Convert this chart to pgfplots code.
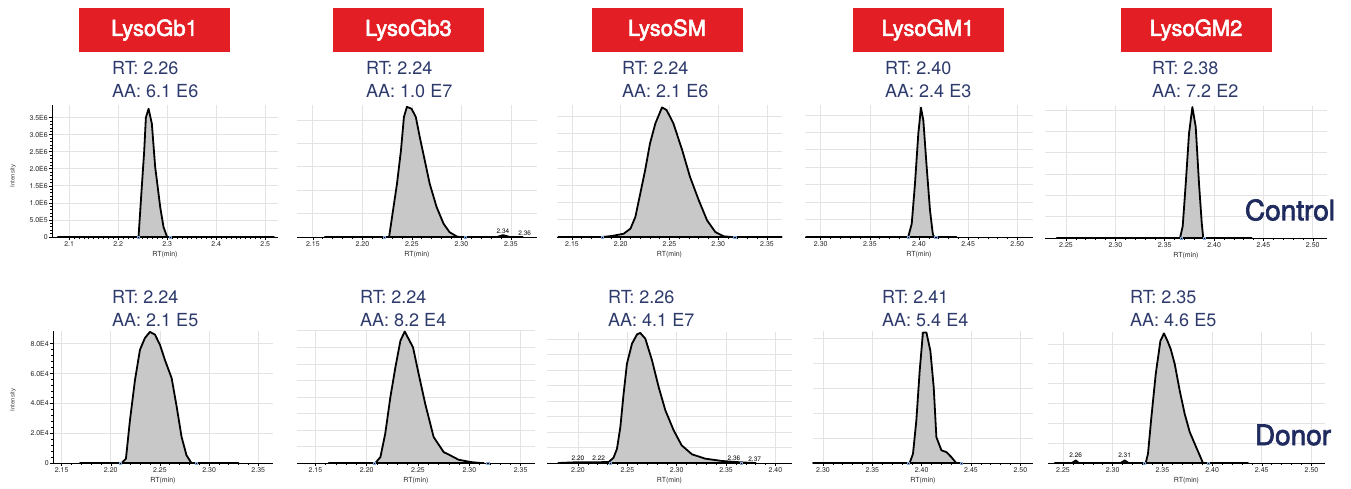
\documentclass[border=0pt]{standalone}
\usepackage{pgfplots}
\pgfplotsset{compat=1.18}
\usepackage{fontspec}
\setmainfont{TeX Gyre Heros}
\newfontface\medfont{TeX Gyre Heros}[FakeBold=2.5]

\definecolor{lysored}{HTML}{E31E24}
\definecolor{rtnavy}{HTML}{2D3A6B}
\definecolor{labnavy}{HTML}{1F2B5E}
\definecolor{peakgray}{HTML}{C8C8C8}
\definecolor{gridgray}{HTML}{E3E3E3}
\definecolor{markblue}{HTML}{7FA8D8}

\pgfplotsset{
  chrom/.style={
    scale only axis, anchor=south west,
    axis x line*=bottom, axis y line*=left,
    ymin=0, clip=false,
    xmajorgrids, ymajorgrids,
    grid style={draw=gridgray, line width=0.7pt},
    minor x tick num=4,
    tick align=outside,
    major tick length=3pt, minor tick length=2pt,
    tick style={black, line width=0.6pt},
    x axis line style={black, line width=0.9pt},
    tick label style={font=\fontsize{7}{7}\selectfont, inner sep=1pt, text=black!85},
    /pgf/number format/assume math mode=true,
    scaled y ticks=false,
    xlabel={RT(min)},
    xlabel style={font=\fontsize{7}{7}\selectfont, inner sep=0pt, text=black!85,
      at={(axis description cs:0.5,0)}, anchor=north, yshift=-14pt},
  },
  noy/.style={y axis line style={draw=none}, ytick style={draw=none}, yticklabels={}},
  withy/.style={y axis line style={black, line width=0.9pt}, minor y tick num=4},
  peak/.style={fill=peakgray, draw=black, line width=1.8pt, line join=round},
  bound/.style={only marks, mark=square, mark size=1.1pt, markblue, mark options={line width=0.5pt}},
  sticks/.style={xtick={2.15,2.20,2.25,2.30,2.35}, xticklabels={2.15,2.20,2.25,2.30,2.35}},
  hticks/.style={xtick={2.25,2.30,2.35,2.40,2.45,2.50}, xticklabels={2.25,2.30,2.35,2.40,2.45,2.50}},
  gticks/.style={xtick={2.30,2.35,2.40,2.45,2.50}, xticklabels={2.30,2.35,2.40,2.45,2.50}},
}
\tikzset{
  title/.style={fill=lysored, text=white, minimum width=151pt, minimum height=44pt,
    inner sep=0pt, font=\medfont\fontsize{22}{22}\selectfont},
  rt/.style={anchor=base west, inner sep=0pt, text=rtnavy, font=\fontsize{18}{18}\selectfont},
  grp/.style={inner sep=0pt, text=labnavy, font=\medfont\fontsize{28}{28}\selectfont},
  plab/.style={anchor=south, inner sep=0.5pt, font=\fontsize{6.5}{6.5}\selectfont},
  ilab/.style={rotate=90, inner sep=0pt, text=black!75, font=\fontsize{6}{6}\selectfont},
}

\begin{document}
\begin{tikzpicture}
\useasboundingbox (0pt,0pt) rectangle (1351pt,-488pt);

% headers
\node[title] at (154.5pt,-30pt) {LysoGb1};
\node[title] at (408.5pt,-30pt) {LysoGb3};
\node[title] at (667pt,-30pt) {LysoSM};
\node[title] at (928pt,-30pt) {LysoGM1};
\node[title] at (1196pt,-30pt) {LysoGM2};

\node[rt] at (112pt,-74pt) {RT: 2.26};  \node[rt] at (112pt,-97pt) {AA: 6.1 E6};
\node[rt] at (366pt,-74pt) {RT: 2.24};  \node[rt] at (366pt,-97pt) {AA: 1.0 E7};
\node[rt] at (622pt,-74pt) {RT: 2.24};  \node[rt] at (622pt,-97pt) {AA: 2.1 E6};
\node[rt] at (885pt,-74pt) {RT: 2.40};  \node[rt] at (885pt,-97pt) {AA: 2.4 E3};
\node[rt] at (1152pt,-74pt) {RT: 2.38}; \node[rt] at (1152pt,-97pt) {AA: 7.2 E2};

\node[rt] at (112pt,-303pt) {RT: 2.24};  \node[rt] at (112pt,-326pt) {AA: 2.1 E5};
\node[rt] at (360pt,-303pt) {RT: 2.24};  \node[rt] at (360pt,-326pt) {AA: 8.2 E4};
\node[rt] at (608pt,-303pt) {RT: 2.26};  \node[rt] at (608pt,-326pt) {AA: 4.1 E7};
\node[rt] at (882pt,-303pt) {RT: 2.41};  \node[rt] at (882pt,-326pt) {AA: 5.4 E4};
\node[rt] at (1130pt,-303pt) {RT: 2.35}; \node[rt] at (1130pt,-326pt) {AA: 4.6 E5};

\node[ilab] at (13pt,-176pt) {Intensity};
\node[ilab] at (13pt,-400pt) {Intensity};

% ---------------- Control row ----------------
% LysoGb1
\begin{axis}[chrom, withy, at={(52pt,-237pt)}, width=226pt, height=132pt,
  xmin=2.065, xmax=2.526, ymax=3.87e6, minor x tick num=9,
  xtick={2.1,2.2,2.3,2.4,2.5}, xticklabels={2.1,2.2,2.3,2.4,2.5},
  ytick={0,5e5,1e6,1.5e6,2e6,2.5e6,3e6,3.5e6},
  yticklabels={0,5.0E5,1.0E6,1.5E6,2.0E6,2.5E6,3.0E6,3.5E6}]
\addplot[peak] coordinates {
 (2.077,0) (2.2415,0) (2.2483,1.5e6) (2.253,2.5e6) (2.2565,3.5e6) (2.262,3.76e6)
 (2.2687,3.32e6) (2.2755,2.05e6) (2.2857,0.88e6) (2.2925,0.29e6) (2.2993,0.02e6)
 (2.301,0) (2.518,0)} \closedcycle;
\addplot[bound] coordinates {(2.2415,0) (2.306,0)};
\end{axis}

% LysoGb3
\begin{axis}[chrom, noy, sticks, at={(297pt,-237pt)}, width=240pt, height=132pt,
  xmin=2.134, xmax=2.3764, ymax=5.64, ytick={0,1,...,5}]
\addplot[peak] coordinates {
 (2.162,0) (2.227,0) (2.231,1.14) (2.235,2.28) (2.239,3.70) (2.242,5.13) (2.245,5.56)
 (2.2497,5.48) (2.254,5.13) (2.258,4.27) (2.263,3.28) (2.268,2.28) (2.275,1.28)
 (2.282,0.57) (2.288,0.21) (2.295,0.03) (2.298,0) (2.336,0) (2.342,0.08) (2.349,0)
 (2.362,0)} \closedcycle;
\addplot[bound] coordinates {(2.222,0) (2.304,0)};
\node[plab] at (axis cs:2.342,0.12) {2.34};
\node[plab] at (axis cs:2.364,0.05) {2.36};
\end{axis}

% LysoSM
\begin{axis}[chrom, noy, sticks, at={(557pt,-237pt)}, width=225pt, height=132pt,
  xmin=2.1346, xmax=2.3654, ymax=7.67, ytick={0,1,...,7}]
\addplot[peak] coordinates {
 (2.136,0) (2.181,0) (2.191,0.06) (2.203,0.19) (2.210,0.49) (2.215,1.17) (2.220,2.52)
 (2.225,3.88) (2.230,5.44) (2.2355,6.60) (2.2423,7.53) (2.247,7.38) (2.254,6.60)
 (2.263,5.05) (2.271,3.50) (2.280,2.14) (2.2885,0.97) (2.297,0.29) (2.3055,0.04)
 (2.314,0) (2.365,0)} \closedcycle;
\addplot[bound] coordinates {(2.181,0) (2.317,0)};
\end{axis}

% LysoGM1
\begin{axis}[chrom, noy, gticks, at={(805pt,-237pt)}, width=228pt, height=132pt,
  xmin=2.284, xmax=2.516, ymax=7.57, ytick={0,1,...,7}]
\addplot[peak] coordinates {
 (2.285,0) (2.389,0) (2.3926,0.76) (2.3959,3.06) (2.3993,5.93) (2.402,7.42)
 (2.4044,6.69) (2.4078,4.02) (2.4112,1.53) (2.414,0.19) (2.4153,0) (2.438,0)} \closedcycle;
\addplot[bound] coordinates {(2.389,0) (2.417,0)};
\end{axis}

% LysoGM2
\begin{axis}[chrom, noy, hticks, at={(1045pt,-238pt)}, width=282pt, height=132pt,
  xmin=2.2287, xmax=2.5144, ymax=6.2, ytick={0,1,...,6}]
\addplot[peak] coordinates {
 (2.2406,0) (2.3655,0) (2.3682,0.55) (2.3713,2.57) (2.3746,4.91) (2.378,6.15)
 (2.3814,5.22) (2.3847,2.57) (2.3875,0.70) (2.389,0) (2.438,0)} \closedcycle;
\addplot[bound] coordinates {(2.367,0) (2.390,0)};
\end{axis}

\node[grp] at (1290pt,-210pt) {Control};

% ---------------- Donor row ----------------
% LysoGb1
\begin{axis}[chrom, withy, sticks, at={(53pt,-463pt)}, width=220pt, height=132pt,
  xmin=2.1412, xmax=2.365, ymax=8.85e4,
  ytick={0,2e4,4e4,6e4,8e4}, yticklabels={0,2.0E4,4.0E4,6.0E4,8.0E4}]
\addplot[peak] coordinates {
 (2.1686,0) (2.211,0) (2.2154,0.29e4) (2.2195,2.88e4) (2.2246,5.57e4) (2.2297,7.6e4)
 (2.2347,8.38e4) (2.2398,8.79e4) (2.2449,8.61e4) (2.250,7.93e4) (2.255,6.92e4)
 (2.2619,5.69e4) (2.267,3.78e4) (2.272,1.75e4) (2.277,0.52e4) (2.282,0) (2.33,0)} \closedcycle;
\addplot[bound] coordinates {(2.210,0) (2.287,0)};
\end{axis}

% LysoGb3
\begin{axis}[chrom, noy, sticks, at={(297pt,-463pt)}, width=238pt, height=133pt,
  xmin=2.132, xmax=2.364, ymax=8.05, ytick={0,1,...,8}]
\addplot[peak] coordinates {
 (2.163,0) (2.2084,0) (2.2133,0.36) (2.218,1.77) (2.223,3.98) (2.2279,5.79)
 (2.2328,7.40) (2.237,7.96) (2.2451,7.0) (2.2506,5.39) (2.257,3.58) (2.2652,1.57)
 (2.275,0.66) (2.2815,0.46) (2.2895,0.20) (2.301,0.06) (2.311,0) (2.314,0)} \closedcycle;
\addplot[bound] coordinates {(2.207,0) (2.318,0)};
\end{axis}

% LysoSM
\begin{axis}[chrom, noy, at={(547pt,-463pt)}, width=245pt, height=131pt,
  xmin=2.1686, xmax=2.4168, ymax=8.45, ytick={0,1,...,8},
  xtick={2.20,2.25,2.30,2.35,2.40}, xticklabels={2.20,2.25,2.30,2.35,2.40}]
\addplot[peak] coordinates {
 (2.180,0) (2.195,0.04) (2.215,0.05) (2.231,0.06) (2.236,0.34) (2.2395,0.92)
 (2.2429,2.32) (2.2462,4.47) (2.2496,6.41) (2.2547,7.70) (2.2598,8.30) (2.2631,8.39)
 (2.2682,8.02) (2.275,6.62) (2.2817,4.90) (2.2885,3.40) (2.2969,2.11) (2.305,1.14)
 (2.3155,0.56) (2.329,0.28) (2.346,0.13) (2.361,0.06) (2.372,0.02) (2.380,0)} \closedcycle;
\addplot[bound] coordinates {(2.233,0) (2.365,0)};
\node[plab] at (axis cs:2.200,0.12) {2.20};
\node[plab] at (axis cs:2.221,0.12) {2.22};
\node[plab] at (axis cs:2.358,0.12) {2.36};
\node[plab] at (axis cs:2.379,0.05) {2.37};
\end{axis}

% LysoGM1
\begin{axis}[chrom, noy, gticks, at={(813pt,-463pt)}, width=220pt, height=132pt,
  xmin=2.2899, xmax=2.5128, ymax=5.3, ytick={0,1,...,5}]
\addplot[peak] coordinates {
 (2.290,0) (2.3878,0) (2.3912,0.37) (2.3946,1.71) (2.398,3.71) (2.4013,5.24)
 (2.4048,5.24) (2.4088,4.51) (2.4122,3.04) (2.4149,1.04) (2.420,0.51) (2.425,0.44)
 (2.430,0.24) (2.435,0) (2.4385,0)} \closedcycle;
\addplot[bound] coordinates {(2.386,0) (2.440,0)};
\end{axis}

% LysoGM2
\begin{axis}[chrom, noy, hticks, at={(1048pt,-463pt)}, width=277pt, height=131pt,
  xmin=2.2349, xmax=2.5136, ymax=6.6, ytick={0,1,...,6}]
\addplot[peak] coordinates {
 (2.2416,0) (2.259,0) (2.2628,0.13) (2.266,0) (2.308,0) (2.312,0.13) (2.316,0)
 (2.3332,0) (2.3355,0.47) (2.3389,2.31) (2.3433,4.49) (2.348,6.16) (2.3516,6.53)
 (2.355,6.16) (2.3583,5.75) (2.3624,4.99) (2.3674,3.65) (2.3724,2.48) (2.3775,1.56)
 (2.3825,0.97) (2.3875,0.39) (2.3908,0) (2.436,0)} \closedcycle;
\addplot[bound] coordinates {(2.332,0) (2.396,0)};
\node[plab] at (axis cs:2.2628,0.25) {2.26};
\node[plab] at (axis cs:2.312,0.25) {2.31};
\end{axis}

\node[grp] at (1293pt,-435pt) {Donor};
\end{tikzpicture}
\end{document}
